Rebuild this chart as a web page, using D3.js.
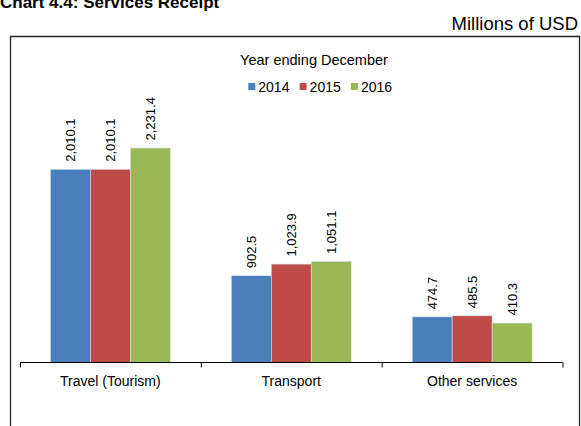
<!DOCTYPE html>
<html>
<head>
<meta charset="utf-8">
<script src="https://cdn.jsdelivr.net/npm/d3@7"></script>
<style>
  body { margin: 0; background: #fff; }
  svg text { font-family: "Liberation Sans", Arial, sans-serif; fill: #000; }
</style>
</head>
<body>
<svg id="chart" width="581" height="426"></svg>
<script>
// 데이터
var categories = ["Travel (Tourism)", "Transport", "Other services"];
var years = ["2014", "2015", "2016"];
var v2014 = [2010.1, 902.5, 474.7];
var v2015 = [2010.1, 1023.9, 485.5];
var v2016 = [2231.4, 1051.1, 410.3];
var colors = ["#4a7ebb", "#be4b48", "#98b954"];

var series = [v2014, v2015, v2016];
var svg = d3.select("#chart");

// 제목 (위쪽이 잘려 있음)
svg.append("text")
   .attr("x", 0).attr("y", 8)
   .attr("font-size", "17px").attr("font-weight", "bold")
   .text("Chart 4.4: Services Receipt");

svg.append("text")
   .attr("x", 578).attr("y", 30)
   .attr("text-anchor", "end")
   .attr("font-size", "18.5px")
   .text("Millions of USD");

// 테두리 (아래쪽은 잘림)
svg.append("path")
   .attr("d", "M10.5,432 V36.5 H579.5 V432")
   .attr("fill", "none")
   .attr("stroke", "#222")
   .attr("stroke-width", 1.3);

// 축과 척도
var x0 = d3.scaleBand().domain(categories).range([20, 562.5]).paddingInner(0.337).paddingOuter(0.168);
var x1 = d3.scaleBand().domain(years).range([0, x0.bandwidth()]);
var y = d3.scaleLinear().domain([0, 2500]).range([362.5, 122.2]);

var groups = svg.selectAll("g.grp")
   .data(categories)
   .enter().append("g")
   .attr("class", "grp")
   .attr("transform", function(d){ return "translate(" + x0(d) + ",0)"; });

groups.selectAll("rect")
   .data(function(d, i){ return years.map(function(yr, j){ return {yr: yr, v: series[j][i], j: j}; }); })
   .enter().append("rect")
   .attr("x", function(d){ return x1(d.yr); })
   .attr("width", x1.bandwidth())
   .attr("y", function(d){ return y(d.v); })
   .attr("height", function(d){ return y(0) - y(d.v); })
   .attr("fill", function(d){ return colors[d.j]; })
   .attr("stroke", "#d9e2ee")
   .attr("stroke-width", 0.6);

// 값 표시 (세로)
groups.selectAll("text.val")
   .data(function(d, i){ return years.map(function(yr, j){ return {yr: yr, v: series[j][i]}; }); })
   .enter().append("text")
   .attr("class", "val")
   .attr("font-size", "13px")
   .attr("transform", function(d){
       return "translate(" + (x1(d.yr) + x1.bandwidth() / 2 + 5) + "," + (y(d.v) - 7.5) + ") rotate(-90)";
   })
   .text(function(d){ return d3.format(",.1f")(d.v); });

// x축
var xAxis = d3.axisBottom(d3.scaleLinear().domain([0, 3]).range([20, 562.5]))
   .tickValues([0, 1, 2, 3]).tickSize(5).tickFormat("");
svg.append("g")
   .attr("transform", "translate(0,362.5)")
   .call(xAxis)
   .call(function(g){
       g.select(".domain").attr("stroke", "#000").attr("d", "M20,0H562.5");
       g.selectAll(".tick line").attr("stroke", "#000");
   });

svg.selectAll("text.cat")
   .data(categories)
   .enter().append("text")
   .attr("class", "cat")
   .attr("x", function(d){ return x0(d) + x0.bandwidth() / 2; })
   .attr("y", 386)
   .attr("text-anchor", "middle")
   .attr("font-size", "14px")
   .text(function(d){ return d; });

// 범례
svg.append("text")
   .attr("x", 314).attr("y", 65)
   .attr("text-anchor", "middle")
   .attr("font-size", "14.5px")
   .text("Year ending December");

var leg = svg.selectAll("g.leg")
   .data(years)
   .enter().append("g")
   .attr("class", "leg")
   .attr("transform", function(d, i){ return "translate(" + (248.3 + i * 51.3) + ",0)"; });
leg.append("rect")
   .attr("x", 0).attr("y", 83).attr("width", 7).attr("height", 7)
   .attr("fill", function(d, i){ return colors[i]; });
leg.append("text")
   .attr("x", 10).attr("y", 91.5)
   .attr("font-size", "14px")
   .text(function(d){ return d; });
</script>
</body>
</html>
